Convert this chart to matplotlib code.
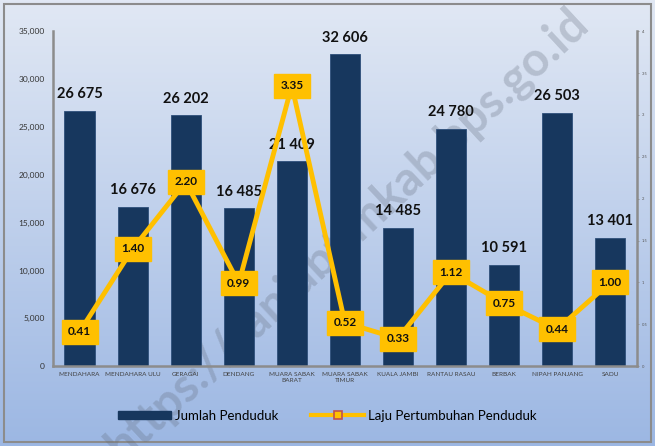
import numpy as np
import matplotlib
matplotlib.use("Agg")
import matplotlib.pyplot as plt
from matplotlib.lines import Line2D
from matplotlib.patches import Patch, Rectangle
from matplotlib.colors import LinearSegmentedColormap

plt.rcParams['font.family'] = ['Lato', 'DejaVu Sans']

kecamatan = ["MENDAHARA", "MENDAHARA ULU", "GERAGAI", "DENDANG", "MUARA SABAK\nBARAT",
             "MUARA SABAK\nTIMUR", "KUALA JAMBI", "RANTAU RASAU", "BERBAK", "NIPAH PANJANG", "SADU"]
penduduk = [26675, 16676, 26202, 16485, 21409, 32606, 14485, 24780, 10591, 26503, 13401]
laju = [0.41, 1.40, 2.20, 0.99, 3.35, 0.52, 0.33, 1.12, 0.75, 0.44, 1.00]

navy = "#17375E"
gold = "#FFC000"

fig = plt.figure(figsize=(6.55, 4.46), dpi=100)

# gradient background + border
bg = fig.add_axes([0, 0, 1, 1], zorder=-10)
grad = np.linspace(0, 1, 256).reshape(-1, 1)
cmap = LinearSegmentedColormap.from_list("bg", ["#E1E8F4", "#9CB7E3"])
bg.imshow(grad, aspect="auto", cmap=cmap, extent=[0, 1, 0, 1], origin="upper")
bg.add_patch(Rectangle((0.006, 0.008), 0.988, 0.984, fill=False, edgecolor="#8C8C8C", lw=1.5))
# watermark (behind the bars)
bg.text(0.53, 0.475, "https://tanjabtimkab.bps.go.id", rotation=43, fontsize=34,
        fontweight="bold", color="#5F6878", alpha=0.28, ha="center", va="center",
        transform=bg.transAxes)
bg.set_xlim(0, 1)
bg.set_ylim(0, 1)
bg.axis("off")

ax = fig.add_axes([0.081, 0.179, 0.891, 0.751])
ax.patch.set_alpha(0)
x = np.arange(len(kecamatan))
ax.bar(x, penduduk, width=0.57, color=navy, edgecolor="#2E4F7A", lw=0.6, zorder=2)
ax.set_ylim(0, 35000)
ax.set_xlim(-0.5, len(kecamatan) - 0.5)
ax.set_yticks(range(0, 35001, 5000))
ax.set_yticklabels([f"{v:,}" for v in range(0, 35001, 5000)], fontsize=6, color="#333333")
ax.set_xticks(x)
ax.set_xticklabels(kecamatan, fontsize=4.6, color="#404040", linespacing=1.4)
ax.tick_params(axis="both", length=0, pad=4)
ax.tick_params(axis="y", pad=6)
for s in ["left", "bottom"]:
    ax.spines[s].set_color("#8C8C8C")
    ax.spines[s].set_linewidth(1.8)
ax.spines["top"].set_visible(False)
ax.spines["right"].set_visible(False)

for xi, v in zip(x, penduduk):
    ax.text(xi, v + 1000, f"{v:,}".replace(",", " "), ha="center", va="bottom",
            fontsize=10.5, fontweight="bold", color="#111111")

ax2 = ax.twinx()
ax2.plot(x, laju, color=gold, lw=3.5, zorder=3, solid_joinstyle="miter")
ax2.set_ylim(0, 4)
ax2.set_yticks(np.arange(0, 4.01, 0.5))
ax2.set_yticklabels(["0", "0.5", "1", "1.5", "2", "2.5", "3", "3.5", "4"], fontsize=3, color="#555555")
ax2.tick_params(axis="y", length=1.5, width=0.6, color="#8C8C8C", pad=2)
for s in ["left", "bottom", "top"]:
    ax2.spines[s].set_visible(False)
ax2.spines["right"].set_color("#8C8C8C")
ax2.spines["right"].set_linewidth(1.8)

for xi, v in zip(x, laju):
    ax2.text(xi, v, f"{v:.2f}", ha="center", va="center", fontsize=8.5, fontweight="bold",
             color="#111111", zorder=5,
             bbox=dict(boxstyle="square,pad=0.55", fc=gold, ec=gold))

handles = [Patch(facecolor=navy, edgecolor=navy),
           Line2D([0], [0], color=gold, lw=3, marker="s", markersize=6,
                  markerfacecolor=gold, markeredgecolor="#C0504D", markeredgewidth=1.2)]
fig.legend(handles, ["Jumlah Penduduk", "Laju Pertumbuhan Penduduk"], loc="center",
           bbox_to_anchor=(0.5, 0.068), ncol=2, frameon=False, fontsize=9.5,
           handlelength=4, handleheight=0.6, columnspacing=2.5, handletextpad=0.3)

fig.savefig("out.png", dpi=100)
